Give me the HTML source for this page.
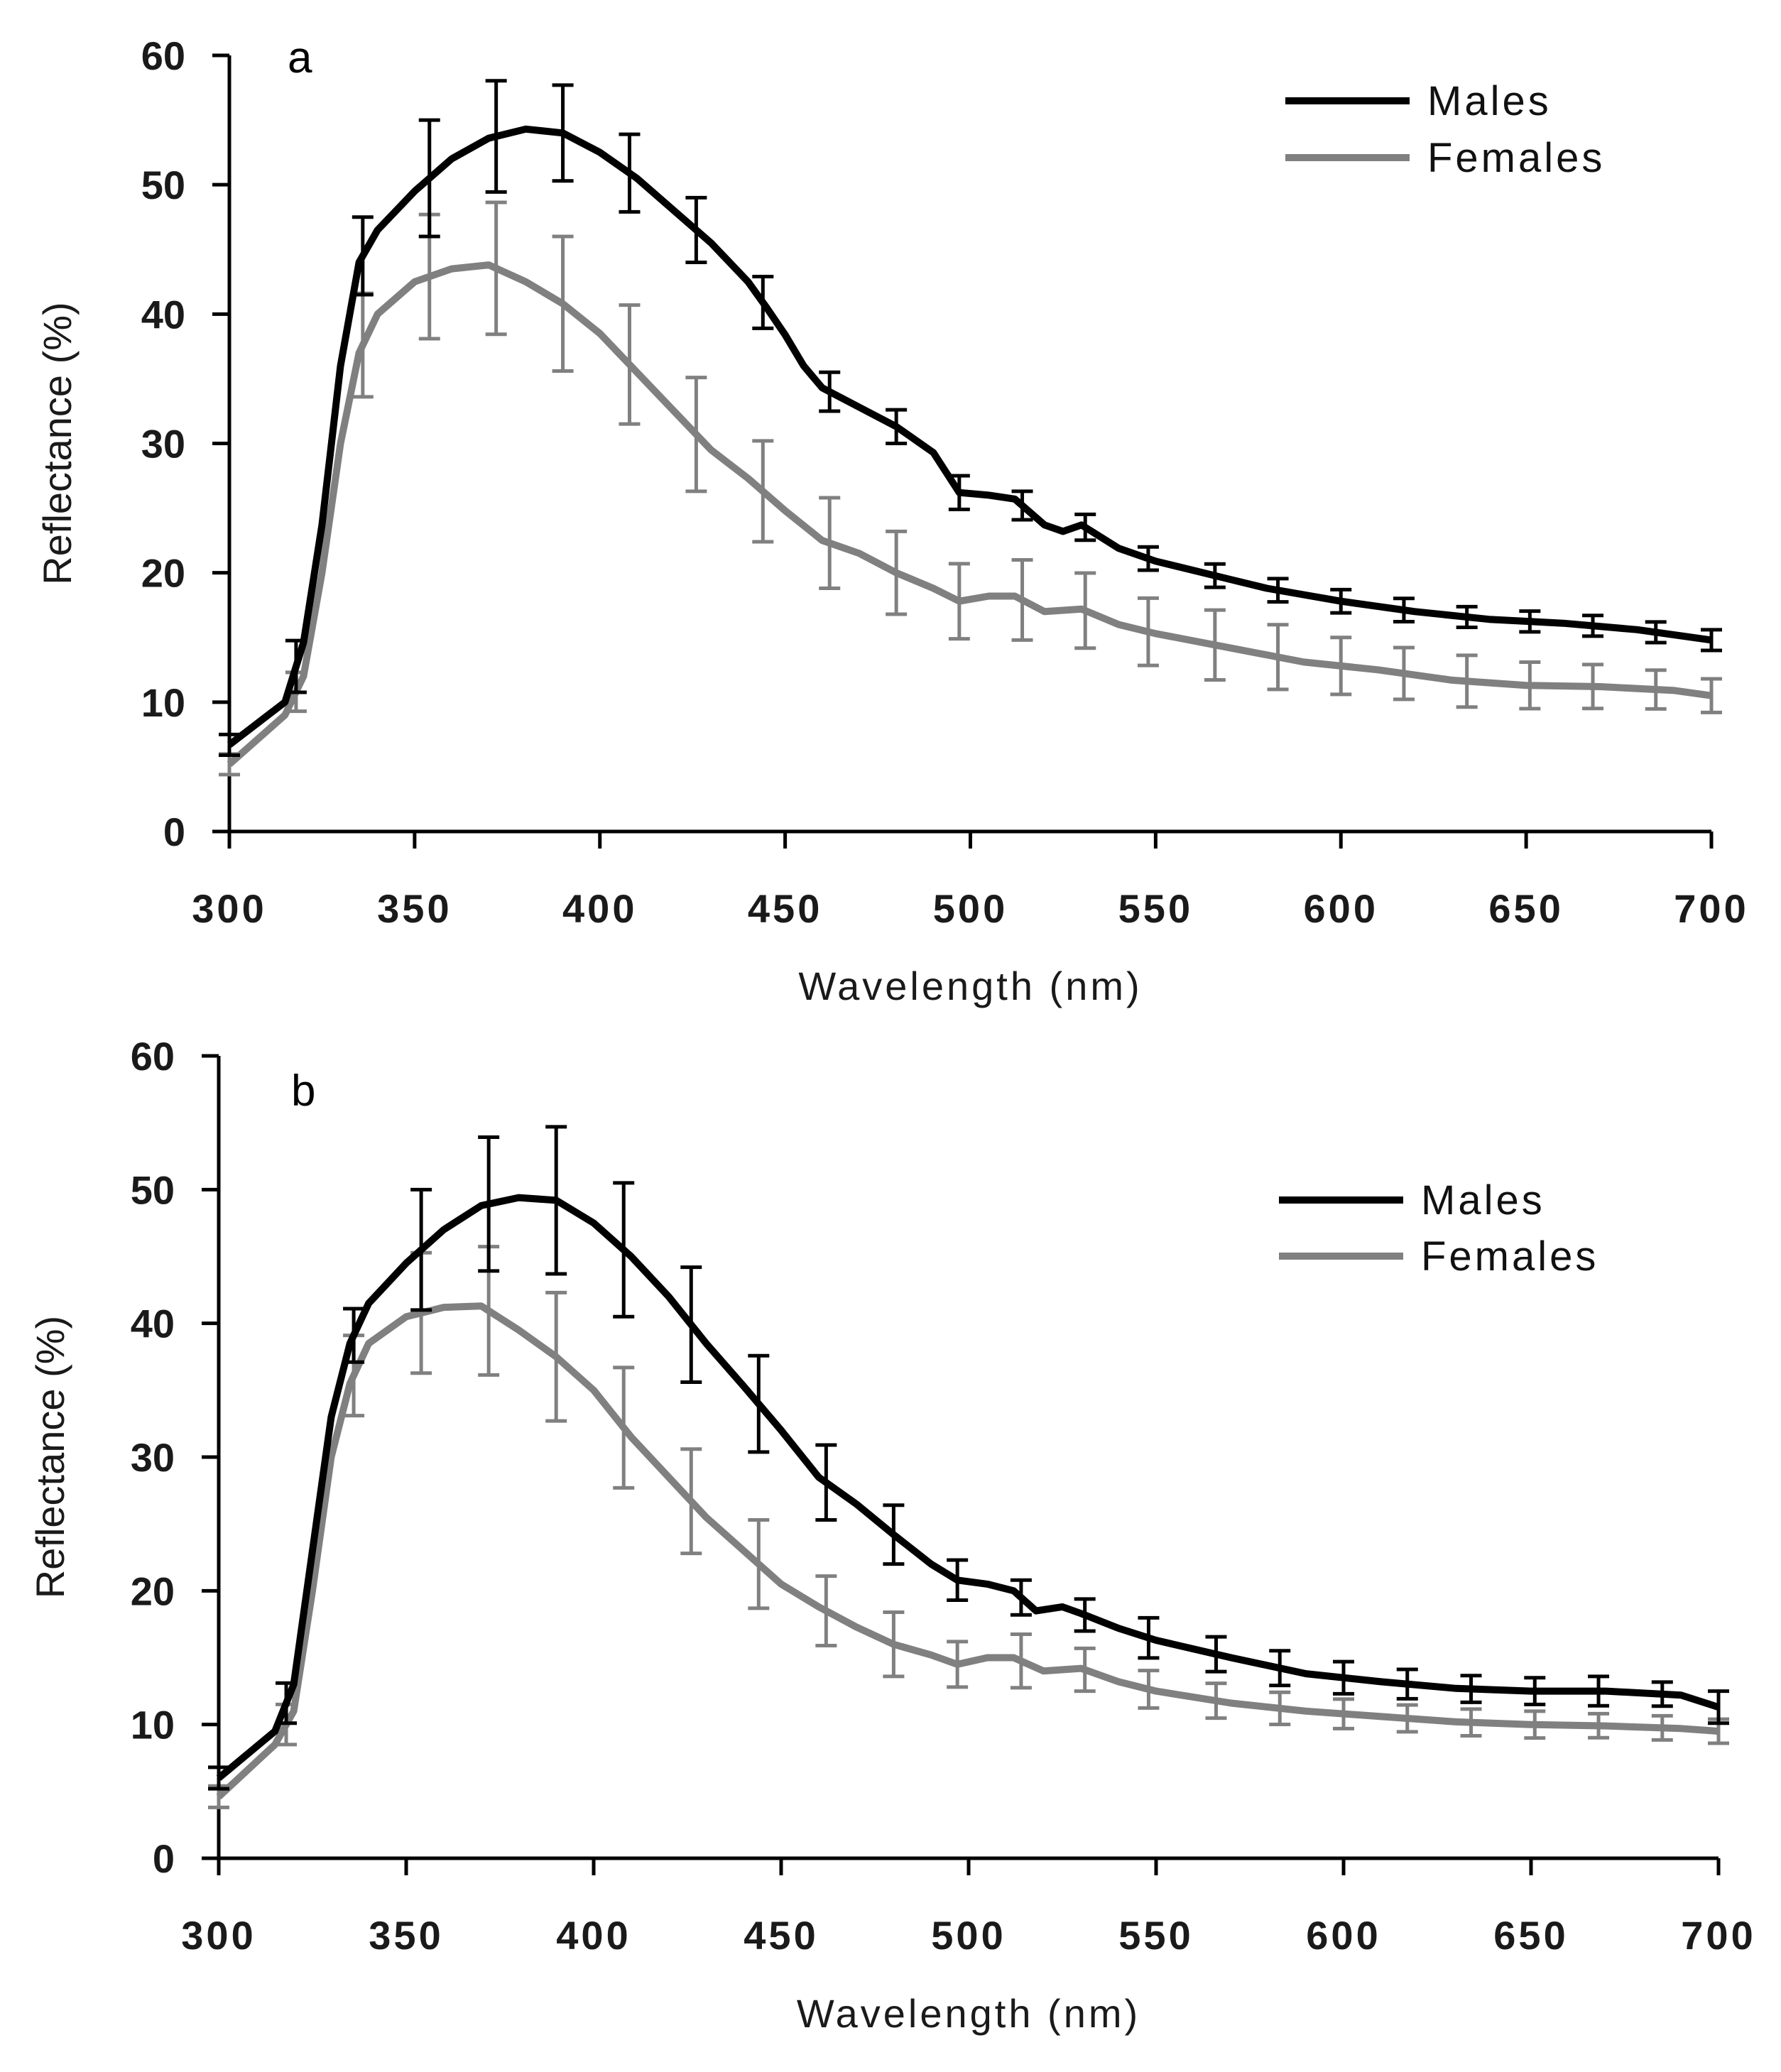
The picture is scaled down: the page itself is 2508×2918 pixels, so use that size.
<!DOCTYPE html>
<html><head><meta charset="utf-8"><style>
html,body{margin:0;padding:0;background:#fff;}
svg{display:block;}
text{font-family:"Liberation Sans",sans-serif;}
</style></head><body>
<svg id="chart" width="2508" height="2918" viewBox="0 0 2508 2918" xmlns="http://www.w3.org/2000/svg"></svg>
<script>
// ---- Data ----
const yTicks = [0,10,20,30,40,50,60];
const xTicks = [300,350,400,450,500,550,600,650,700];
const errWl = [300,318,336,354,372,390,408,426,444,462,480,497,514,531,548,566,583,600,617,634,651,668,685,700];

const aMaleWl  = [300,315,320,325,330,335,340,350,360,370,380,390,400,410,420,430,440,445,450,455,460,470,480,490,497,505,512,520,525,530,540,550,560,570,580,600,620,640,660,680,700];
const aMaleVal = [6.7,10,14.6,23.7,36,44,46.5,49.5,52,53.6,54.3,54,52.5,50.5,48,45.5,42.5,40.5,38.4,36,34.3,32.8,31.3,29.3,26.2,26,25.7,23.7,23.2,23.7,21.9,20.9,20.2,19.5,18.8,17.8,17,16.4,16.1,15.6,14.8];
const aMaleErr = [0.8,2,3,4.5,4.3,3.7,3,2.5,2,1.5,1.3,1.3,1.1,1,0.9,0.9,0.9,0.9,0.9,0.8,0.8,0.8,0.8,0.8];

const aFemWl  = [300,315,320,325,330,335,340,350,360,370,380,390,400,410,420,430,440,450,460,470,480,490,497,505,512,520,530,540,550,570,590,610,630,650,670,690,700];
const aFemVal = [5.2,9,12,20,30,37,40,42.5,43.5,43.8,42.5,40.8,38.5,35.5,32.5,29.5,27.3,24.8,22.5,21.5,20,18.8,17.8,18.2,18.2,17,17.2,16,15.3,14.2,13.1,12.5,11.7,11.3,11.2,10.9,10.5];
const aFemErr = [0.8,1.5,4,4.8,5.1,5.2,4.6,4.4,3.9,3.5,3.2,2.9,3.1,2.9,2.6,2.7,2.5,2.2,2,2,1.8,1.7,1.5,1.3];

const bMaleWl  = [300,315,320,325,330,335,340,350,360,370,380,390,400,410,420,430,440,450,460,470,480,490,497,505,512,518,525,530,540,550,570,590,610,630,650,670,690,700];
const bMaleVal = [6,9.5,13,23,33,38.5,41.5,44.5,47,48.8,49.4,49.2,47.5,45,42,38.5,35.3,32,28.5,26.5,24.2,22,20.8,20.5,20,18.5,18.8,18.3,17.2,16.3,15,13.8,13.2,12.7,12.5,12.5,12.2,11.3];
const bMaleErr = [0.8,1.5,2,4.5,5,5.5,5,4.3,3.6,2.8,2.2,1.5,1.3,1.2,1.5,1.3,1.3,1.2,1.1,1,1,1.1,0.9,1.2];

const bFemWl  = [300,315,320,325,330,335,340,350,360,370,380,390,400,410,420,430,440,450,460,470,480,490,497,505,512,520,530,540,550,570,590,610,630,650,670,690,700];
const bFemVal = [4.6,8.5,11,20,30,35.5,38.5,40.5,41.2,41.3,39.5,37.5,35,31.5,28.5,25.5,23,20.5,18.8,17.3,16,15.2,14.5,15,15,14,14.2,13.2,12.5,11.6,11,10.6,10.2,10,9.9,9.7,9.5];
const bFemErr = [0.8,1.5,3,4.5,4.8,4.8,4.5,3.9,3.3,2.6,2.4,1.7,2,1.6,1.4,1.3,1.2,1.1,1,1,1,0.9,0.9,0.9];

const NS = "http://www.w3.org/2000/svg";
const svg = document.getElementById('chart');
function mk(tag, attrs, parent){
  const e = document.createElementNS(NS, tag);
  for (const k in attrs) e.setAttribute(k, attrs[k]);
  (parent||svg).appendChild(e);
  return e;
}
function interp(wl, val, x){
  if (x <= wl[0]) return val[0];
  for (let i=1;i<wl.length;i++){
    if (x <= wl[i]) { const t=(x-wl[i-1])/(wl[i]-wl[i-1]); return val[i-1]+t*(val[i]-val[i-1]); }
  }
  return val[val.length-1];
}

function panel(cfg){
  const g = mk('g', {});
  
  
  const xs = v => cfg.x0 + (v-300)/400*(cfg.x1-cfg.x0);
  const ys = v => cfg.y0 - v/60*(cfg.y0-cfg.y60);
  const ya = mk('line', {x1:cfg.x0,y1:cfg.y60,x2:cfg.x0,y2:cfg.y0,stroke:'#000','stroke-width':5}, g);
   
  const xa = mk('line', {x1:cfg.x0-24,y1:cfg.y0,x2:cfg.x1,y2:cfg.y0,stroke:'#000','stroke-width':5}, g);
   
  yTicks.forEach(t=>{
    const y = ys(t);
    mk('line',{x1:cfg.x0-24,y1:y,x2:cfg.x0,y2:y,stroke:'#000','stroke-width':5},g);
    const tx = mk('text',{x:cfg.x0-62,y:y+20,'text-anchor':'end','font-size':56,'font-weight':'bold',fill:'#1a1a1a'},g);
    tx.textContent = t;
     
  });
  xTicks.forEach(t=>{
    const x = xs(t);
    mk('line',{x1:x,y1:cfg.y0,x2:x,y2:cfg.y0+24,stroke:'#000','stroke-width':5},g);
    const tx = mk('text',{x:x,y:cfg.y0+128,'text-anchor':'middle','font-size':56,'font-weight':'bold',fill:'#1a1a1a','letter-spacing':4},g);
    tx.textContent = t;
     
  });
  const yt = mk('text',{x:0,y:0,transform:`translate(${cfg.ytx},${(cfg.y0+cfg.y60)/2}) rotate(-90)`,'text-anchor':'middle','font-size':56,fill:'#1a1a1a'},g);
  yt.textContent = 'Reflectance (%)';
   
  const xt = mk('text',{x:(cfg.x0+cfg.x1)/2,y:cfg.xty,'text-anchor':'middle','font-size':56,fill:'#1a1a1a','letter-spacing':4},g);
  xt.textContent = 'Wavelength (nm)';
   
  const lb = mk('text',{x:cfg.lx,y:cfg.ly,'font-size':62,fill:'#000','font-family':'Liberation Serif, serif'},g);
  lb.textContent = cfg.label;
   

  function series(wl,val,err,color,nm){
    const pts = wl.map((w,i)=>xs(w).toFixed(1)+','+ys(val[i]).toFixed(1)).join(' ');
    const pl = mk('polyline',{points:pts,fill:'none',stroke:color,'stroke-width':10,'stroke-linejoin':'round'},g);
     
    errWl.forEach((w,i)=>{
      const x = xs(w), c = interp(wl,val,w);
      const yt2 = ys(c+err[i]), yb = ys(c-err[i]);
      const eb = mk('path',{d:`M${x},${yt2}V${yb}M${x-15},${yt2}H${x+15}M${x-15},${yb}H${x+15}`,stroke:color,'stroke-width':5,fill:'none'},g);
       
    });
  }
  series(cfg.fw,cfg.fv,cfg.fe,'#808080','females');
  series(cfg.mw,cfg.mv,cfg.me,'#000','males');

  const lg = mk('g',{},g);
   
  [['Males','#000',cfg.legY1],['Females','#808080',cfg.legY2]].forEach(([t,c,y])=>{
    const ln = mk('line',{x1:cfg.legX,y1:y,x2:cfg.legX+175,y2:y,stroke:c,'stroke-width':10},lg);
     
    const tx = mk('text',{x:cfg.legX+200,y:y+20,'font-size':58,fill:'#111','letter-spacing':4},lg);
    tx.textContent = t;
     
  });
}

panel({name:'panel-a',label:'a',x0:323,x1:2410,y0:1171,y60:78,ytx:100,xty:1408,lx:405,ly:102,
  mw:aMaleWl,mv:aMaleVal,me:aMaleErr,fw:aFemWl,fv:aFemVal,fe:aFemErr,legX:1810,legY1:142,legY2:222});
panel({name:'panel-b',label:'b',x0:308,x1:2420,y0:2617,y60:1487,ytx:90,xty:2855,lx:410,ly:1557,
  mw:bMaleWl,mv:bMaleVal,me:bMaleErr,fw:bFemWl,fv:bFemVal,fe:bFemErr,legX:1801,legY1:1690,legY2:1769});
</script>
</body></html>
